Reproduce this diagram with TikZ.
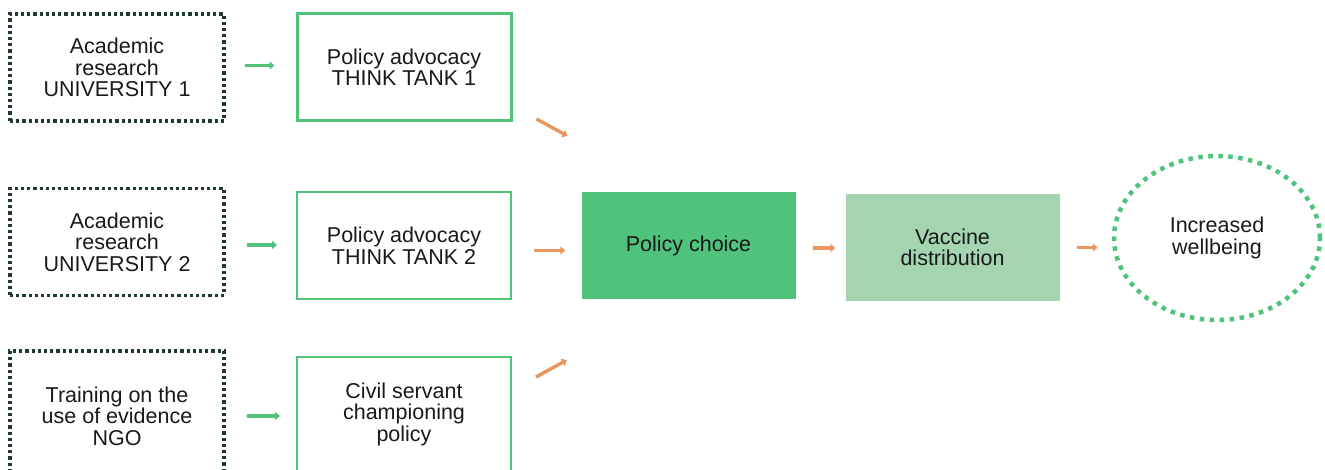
\documentclass[tikz,border=0pt]{standalone}
\usepackage{fontspec}
\setmainfont{Liberation Sans}
\usetikzlibrary{arrows.meta,shapes.geometric,calc}
\definecolor{dkgreen}{HTML}{1F3B34}
\definecolor{mgreen}{HTML}{4FC27B}
\definecolor{lgreen}{HTML}{A4D5B0}
\definecolor{orng}{HTML}{E6985F}
\tikzset{
  base/.style={rectangle, minimum width=214pt, minimum height=107pt, inner sep=0pt, align=center,
    font=\fontsize{21.5}{21.5}\selectfont, text=black!90},
  dotbox/.style={base, draw=dkgreen, line width=3.2pt, dash pattern=on 3.2pt off 3pt},
  thinbox/.style={base, draw=mgreen, line width=2pt},
  thickbox/.style={base, draw=mgreen, line width=3pt},
  garrow/.style={draw=mgreen, line width=3.5pt, -{Triangle[length=5pt,width=8pt]}},
  oarrow/.style={draw=orng, line width=3.5pt, -{Triangle[length=5pt,width=8pt]}},
}
\begin{document}
\begin{tikzpicture}[x=1pt,y=-1pt]
\useasboundingbox (0,0) rectangle (1325,470);
\begin{scope}
\clip (0,0) rectangle (1325,470);
\node[dotbox] (U1) at (117,67.5) {Academic\\research\\UNIVERSITY 1};
\node[dotbox] (U2) at (117,242) {Academic\\research\\UNIVERSITY 2};
\node[dotbox, minimum height=130pt] (NGO) at (117,416) {Training on the\\use of evidence\\NGO};
\node[thickbox] (TT1) at (404,67) {Policy advocacy\\THINK TANK 1};
\node[thinbox] (TT2) at (404,245.5) {Policy advocacy\\THINK TANK 2};
\node[thinbox, minimum height=114pt] (CS) at (404,414) {Civil servant\\championing\\policy};
\node[base, fill=mgreen] (PC) at (688.5,245.5) {Policy choice};
\node[base, fill=lgreen] (VD) at (952.5,247.5) {Vaccine\\distribution};
\node[ellipse, draw=mgreen, line width=4.5pt, dash pattern=on 4.5pt off 5.5pt,
  minimum width=206pt, minimum height=164pt, inner sep=0pt, align=center,
  font=\fontsize{21.5}{21.5}\selectfont, text=black!90] (E) at (1217,238) {Increased\\wellbeing};
\end{scope}
% green arrows
\draw[garrow, shorten <=19pt, shorten >=21pt] ([yshift=2pt]U1.east) -- ([yshift=2pt]U1.east -| TT1.west);
\draw[garrow, shorten <=21pt, shorten >=19pt] ([yshift=-3pt]U2.east) -- ([yshift=-3pt]U2.east -| TT2.west);
\draw[garrow, shorten <=21pt, shorten >=16pt] (NGO.east) -- (NGO.east -| CS.west);
% orange arrows
\draw[oarrow] ([shift={(24,-3)}]TT1.south east) -- ([shift={(55,14)}]TT1.south east);
\draw[oarrow, shorten <=22pt, shorten >=16pt] ([yshift=-5pt]TT2.east) -- ([yshift=-5pt]TT2.east -| PC.west);
\draw[oarrow] ([shift={(24,21)}]CS.north east) -- ([shift={(55,4)}]CS.north east);
\draw[oarrow, shorten <=17pt, shorten >=10pt] ([yshift=-2.5pt]PC.east) -- ([yshift=-2.5pt]PC.east -| VD.west);
\draw[oarrow, shorten <=17pt, shorten >=14pt] (VD.east) -- (VD.east -| E.west);
\end{tikzpicture}
\end{document}
